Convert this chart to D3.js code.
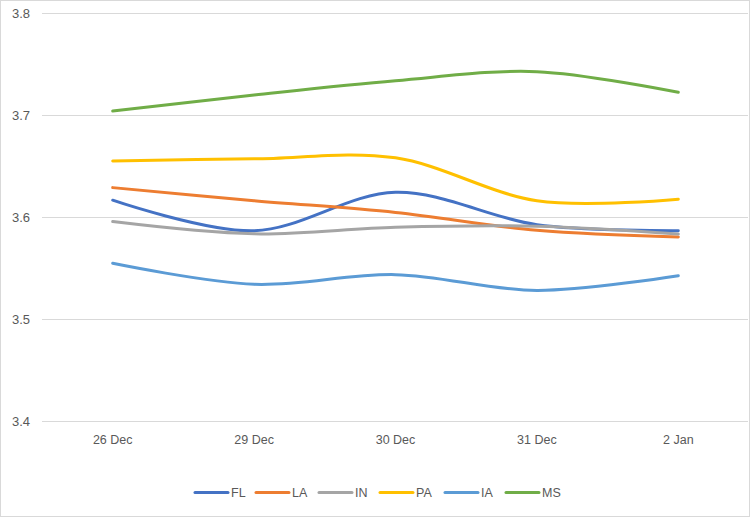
<!DOCTYPE html>
<html><head><meta charset="utf-8">
<script src="https://cdn.jsdelivr.net/npm/d3@7"></script>
<style>body{margin:0;background:#fff}svg{display:block}text{font-family:"Liberation Sans",Arial,sans-serif;fill:#595959}</style>
</head><body><svg id="c" width="750" height="517"></svg>
<script>
const categories = ["26 Dec","29 Dec","30 Dec","31 Dec","2 Jan"];
const yTicks = [3.4,3.5,3.6,3.7,3.8];
const seriesNames = ["FL","LA","IN","PA","IA","MS"];
const FL = [3.6165,3.5865,3.6242,3.5925,3.5866];
const LA = [3.6288,3.6160,3.6045,3.5870,3.5805];
const IN = [3.5955,3.5835,3.5900,3.5910,3.5833];
const PA = [3.6550,3.6570,3.6580,3.6160,3.6175];
const IA = [3.5546,3.5340,3.5435,3.5280,3.5425];
const MS = [3.7039,3.7196,3.7336,3.7425,3.7223];
const seriesValues = [FL,LA,IN,PA,IA,MS];
const colors = ["#4472C4","#ED7D31","#A5A5A5","#FFC000","#5B9BD5","#70AD47"];

const svg = d3.select("#c");
svg.append("rect").attr("x",0.5).attr("y",0.5).attr("width",749).attr("height",516)
  .attr("fill","#fff").attr("stroke","#d9d9d9");

const x = d3.scalePoint().domain(categories).range([42,749]).padding(0.5);
const y = d3.scaleLinear().domain([3.4,3.8]).range([421,13]);

// gridlines
svg.append("g").selectAll("line").data(yTicks).join("line")
  .attr("x1",42).attr("x2",748).attr("y1",d=>Math.round(y(d))+0.5).attr("y2",d=>Math.round(y(d))+0.5)
  .attr("stroke","#d9d9d9").attr("stroke-width",1);

// y labels
svg.append("g").selectAll("text").data(yTicks).join("text")
  .attr("x",30).attr("y",d=>y(d)).attr("text-anchor","end").attr("dominant-baseline","central")
  .attr("font-size",13).text(d=>d.toFixed(1));

// x labels
svg.append("g").selectAll("text").data(categories).join("text")
  .attr("x",d=>x(d)).attr("y",444).attr("text-anchor","middle")
  .attr("font-size",12.5).text(d=>d);

const line = d3.line().x((d,i)=>x(categories[i])).y(d=>y(d)).curve(d3.curveCardinal.tension(0));

svg.append("g").selectAll("path").data(seriesValues).join("path")
  .attr("d",d=>line(d)).attr("fill","none").attr("stroke",(d,i)=>colors[i])
  .attr("stroke-width",3).attr("stroke-linecap","round").attr("stroke-linejoin","round");

// legend
const legX = [195,256,319,380,445,506];
const lg = svg.append("g").selectAll("g").data(seriesNames).join("g")
  .attr("transform",(d,i)=>`translate(${legX[i]},492.5)`);
lg.append("line").attr("x1",0).attr("x2",33).attr("y1",0).attr("y2",0)
  .attr("stroke",(d,i)=>colors[i]).attr("stroke-width",3).attr("stroke-linecap","round");
lg.append("text").attr("x",36).attr("y",0).attr("dominant-baseline","central")
  .attr("font-size",12.5).text(d=>d);
</script></body></html>
